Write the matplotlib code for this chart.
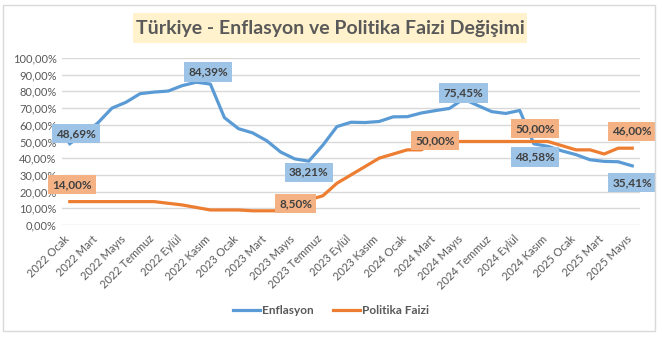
import matplotlib
matplotlib.use("Agg")
import matplotlib.pyplot as plt
import matplotlib.transforms as mtransforms
from matplotlib.patches import Rectangle

plt.rcParams['font.family'] = ['Lato', 'DejaVu Sans']

# months, 2022 Ocak .. 2025 Mayis
month_names = ['Ocak', 'Şubat', 'Mart', 'Nisan', 'Mayıs', 'Haziran',
               'Temmuz', 'Ağustos', 'Eylül', 'Ekim', 'Kasım', 'Aralık']
months = [f'{y} {m}' for y in (2022, 2023, 2024, 2025) for m in month_names][:41]

enflasyon = [48.69, 54.44, 61.14, 69.97, 73.50, 78.62, 79.60, 80.21, 83.45, 85.51, 84.39, 64.27,
             57.68, 55.18, 50.51, 43.68, 39.59, 38.21, 47.83, 58.94, 61.53, 61.36, 61.98, 64.77,
             64.86, 67.07, 68.50, 69.80, 75.45, 71.60, 67.90, 66.80, 68.60, 48.58, 47.09, 44.38,
             42.12, 39.05, 38.10, 37.86, 35.41]
politika_faizi = [14.0, 14.0, 14.0, 14.0, 14.0, 14.0, 14.0, 13.0, 12.0, 10.5, 9.0, 9.0,
                  9.0, 8.5, 8.5, 8.5, 8.5, 15.0, 17.5, 25.0, 30.0, 35.0, 40.0, 42.5,
                  45.0, 45.0, 50.0, 50.0, 50.0, 50.0, 50.0, 50.0, 50.0, 50.0, 50.0, 47.5,
                  45.0, 45.0, 42.5, 46.0, 46.0]

BLUE = '#5B9BD5'
ORANGE = '#ED7D31'
GREY = '#595959'

W, H = 662, 337
fig = plt.figure(figsize=(W / 100, H / 100), dpi=100)

# chart border + title box
fig.patches.append(Rectangle((3 / W, 6 / H), 652 / W, 326 / H, transform=fig.transFigure,
                             fill=False, edgecolor='#D9D9D9', linewidth=1))
fig.patches.append(Rectangle((133 / W, 1 - 43 / H), 394 / W, 30 / H, transform=fig.transFigure,
                             facecolor='#FFF2CC', edgecolor='none'))
fig.text(330 / W, 1 - 28.5 / H, 'Türkiye - Enflasyon ve Politika Faizi Değişimi',
         ha='center', va='center', fontsize=14, fontweight='bold', color=GREY)

ax = fig.add_axes([62 / W, 1 - 225 / H, 578 / W, 167 / H])
x = list(range(len(months)))
ax.plot(x, enflasyon, color=BLUE, lw=2.3, solid_joinstyle='round', zorder=3, label='Enflasyon')
ax.plot(x, politika_faizi, color=ORANGE, lw=2.3, solid_joinstyle='round', zorder=3, label='Politika Faizi')

ax.set_xlim(-0.55, 40.55)
ax.set_ylim(0, 100)
ax.set_yticks(range(0, 101, 10))
ax.set_yticklabels([f'{v},00%' for v in range(0, 101, 10)], color=GREY, fontsize=8)
ax.set_xticks(x[::2])
ax.set_xticklabels(months[::2], rotation=45, ha='right', va='top', rotation_mode='anchor',
                   color=GREY, fontsize=8)
ax.tick_params(axis='y', length=0, pad=4)
ax.tick_params(axis='x', length=0, pad=6)
shift = mtransforms.ScaledTranslation(-6 / 100, 0, fig.dpi_scale_trans)
for lbl in ax.get_xticklabels():
    lbl.set_transform(lbl.get_transform() + shift)
ax.grid(axis='y', color='#D9D9D9', lw=1)
ax.set_axisbelow(True)
for s in ax.spines.values():
    s.set_visible(False)

# data labels: (series, index, dx, dy in pixels, box colour)
labels = [
    (enflasyon, 0, 6, 10, '#9DC3E6'),
    (enflasyon, 10, -2, 12, '#9DC3E6'),
    (enflasyon, 17, 0, -11, '#9DC3E6'),
    (enflasyon, 28, 0, 6, '#9DC3E6'),
    (enflasyon, 33, 1, -13, '#9DC3E6'),
    (enflasyon, 40, 0, -17, '#9DC3E6'),
    (politika_faizi, 0, 2, 17, '#F4B183'),
    (politika_faizi, 16, 1, 7, '#F4B183'),
    (politika_faizi, 26, 0, 1, '#F4B183'),
    (politika_faizi, 33, 1, 13, '#F4B183'),
    (politika_faizi, 40, 0, 17, '#F4B183'),
]
for series, i, dx, dy, fc in labels:
    txt = f'{series[i]:.2f}%'.replace('.', ',')
    ax.annotate(txt, (i, series[i]), xytext=(dx, dy), textcoords='offset pixels',
                ha='center', va='center', fontsize=8.5, fontweight='bold', color='#404040',
                bbox=dict(boxstyle='square,pad=0.35', fc=fc, ec='none'), zorder=5,
                annotation_clip=False)

fig.legend(loc='center', bbox_to_anchor=(331 / W, 1 - 311 / H), ncol=2, frameon=False,
           handlelength=2.3, columnspacing=1.6, handletextpad=0.2,
           labelcolor=GREY, prop={'weight': 'bold', 'size': 8.5})

fig.savefig('out.png', dpi=100)
